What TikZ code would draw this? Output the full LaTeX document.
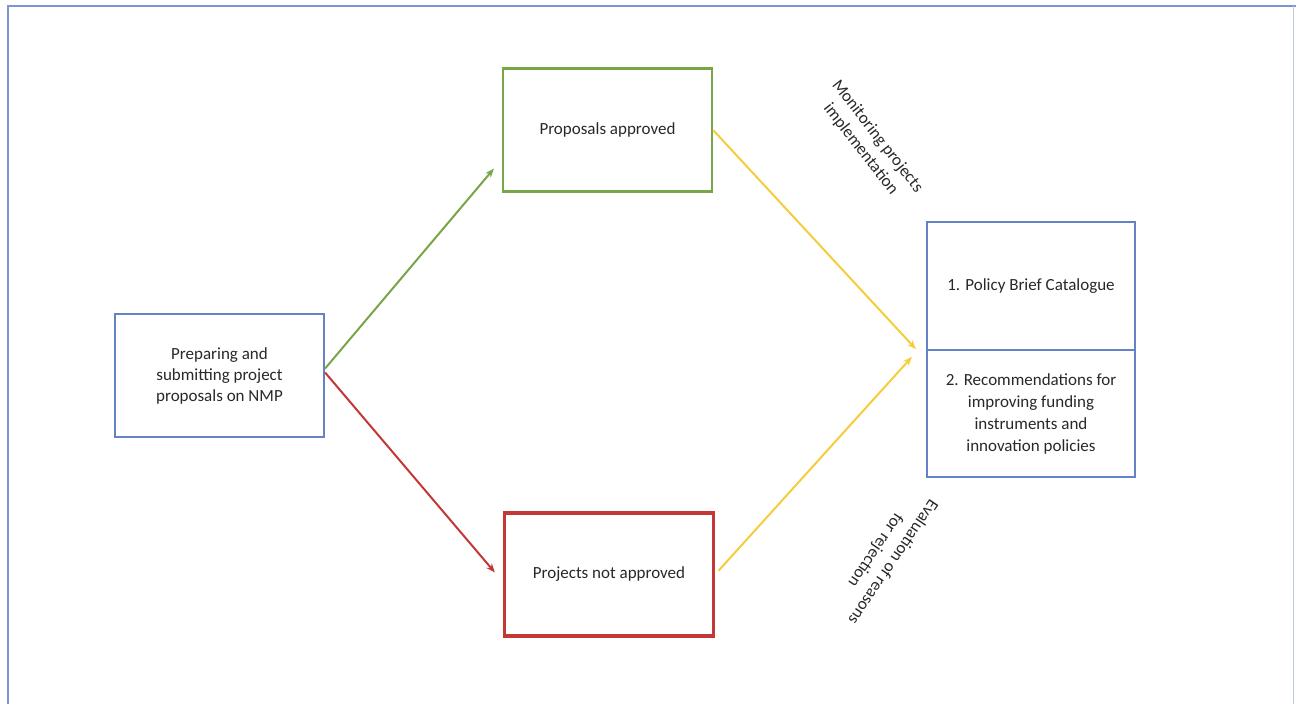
\documentclass[tikz,border=0pt]{standalone}
\usepackage{fontspec}
\setmainfont{Carlito}
\usetikzlibrary{arrows.meta}
\definecolor{boxblue}{RGB}{100,130,200}
\definecolor{framecol}{RGB}{125,148,210}
\definecolor{boxgreen}{RGB}{120,165,70}
\definecolor{boxred}{RGB}{195,55,55}
\definecolor{arryellow}{RGB}{245,205,60}
\definecolor{txt}{RGB}{40,40,40}
\tikzset{
  box/.style={draw, line width=2.2pt, minimum width=209pt, minimum height=123pt, inner sep=0pt, align=center, text=txt, font=\fontsize{17}{21}\selectfont},
  lbl/.style={align=center, text=txt, font=\fontsize{17}{21}\selectfont, inner sep=0pt},
  conn/.style={line width=2pt, -{Stealth[length=9pt,width=7pt]}}
}
\begin{document}
\begin{tikzpicture}[x=1pt,y=-1pt]
\useasboundingbox (0,0) rectangle (1296,704);
% outer frame
\draw[framecol, line width=2pt] (8,704) -- (8,6) -- (1296,6);
\draw[framecol!50, line width=1pt] (1293,6) -- (1293,704);
% boxes
\node[box, draw=boxblue] (L) at (219.5,375.5) {Preparing and\\submitting project\\proposals on NMP};
\node[box, draw=boxgreen] (G) at (607.5,130) {Proposals approved};
\node[box, draw=boxred, line width=3.2pt] (R) at (609,574.5) {Projects not approved};
\node[box, draw=boxblue, minimum width=208pt, minimum height=128pt] (P1) at (1031,286) {1. Policy Brief Catalogue};
\node[box, draw=boxblue, minimum width=208pt, minimum height=127pt, font=\fontsize{17}{22}\selectfont] (P2) at (1031,413.5) {2. Recommendations for\\improving funding\\instruments and\\innovation policies};
% connectors
\draw[conn, boxgreen] ([yshift=7pt]L.east) -- ([shift={(-8pt,24pt)}]G.south west);
\draw[conn, boxred] ([yshift=3pt]L.east) -- ([shift={(-8pt,2pt)}]R.west);
\draw[conn, arryellow] (G.east) -- ([shift={(-10pt,2pt)}]P1.south west);
\draw[conn, arryellow, shorten <=5pt] (R.east) -- ([shift={(-14pt,-8pt)}]P2.north west);
% labels
\node[lbl, rotate=-52] (m) at (869,143) {Monitoring projects\\implementation};
\node[lbl, rotate=236] (e) at (884,556) {Evaluation of reasons\\for rejection};
\end{tikzpicture}
\end{document}
